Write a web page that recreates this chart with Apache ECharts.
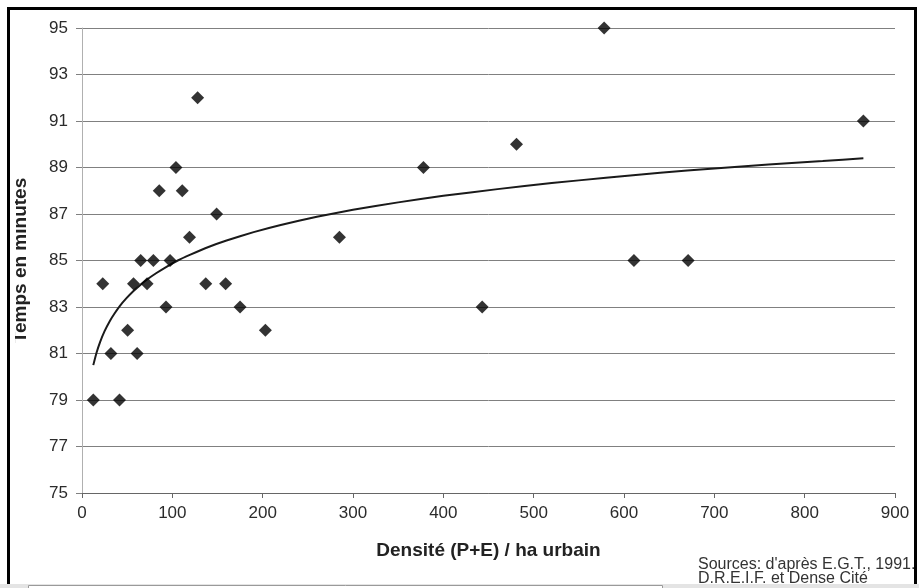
<!DOCTYPE html>
<html>
<head>
<meta charset="utf-8">
<script src="https://cdn.jsdelivr.net/npm/echarts@6/dist/echarts.min.js"></script>
<style>
html,body{margin:0;padding:0;background:#fff;}
#chart{width:919px;height:588px;}
</style>
</head>
<body>
<div id="chart"></div>
<script>
// Scatter data: density (P+E)/ha urbain vs travel time in minutes
const density = [12.5, 23, 32, 41.5, 50.5, 57, 61, 65, 72, 79, 85.5, 93, 97.5, 104, 111, 119, 128, 137, 149, 159, 175, 203, 285, 378, 443, 481, 578, 611, 671, 865];
const minutes = [79, 84, 81, 79, 82, 84, 81, 85, 84, 85, 88, 83, 85, 89, 88, 86, 92, 84, 87, 84, 83, 82, 86, 89, 83, 90, 95, 85, 85, 91];

// Trend curve
const trendX = [12.5, 16, 20, 25, 31, 36, 42, 49, 57, 64, 72, 82, 94, 106, 120, 140, 160, 190, 220, 260, 300, 350, 400, 460, 520, 580, 640, 700, 760, 820, 865];
const trendY = [80.5, 81.02, 81.49, 81.96, 82.41, 82.72, 83.05, 83.37, 83.69, 83.93, 84.18, 84.45, 84.74, 85.0, 85.25, 85.58, 85.86, 86.22, 86.53, 86.88, 87.18, 87.5, 87.78, 88.07, 88.33, 88.56, 88.77, 88.96, 89.13, 89.28, 89.4];

// Tick labels
const yTicks = [75, 77, 79, 81, 83, 85, 87, 89, 91, 93, 95];
const xTicks = [0, 100, 200, 300, 400, 500, 600, 700, 800, 900];

const xTitle = 'Densité (P+E) / ha urbain';
const yTitle = 'Temps en minutes';
const sourceLines = ["Sources: d'après E.G.T., 1991.", 'D.R.E.I.F. et Dense Cité'];

const chart = echarts.init(document.getElementById('chart'), null, {renderer: 'canvas'});

const points = density.map((d, i) => [d, minutes[i]]);
const trend = trendX.map((d, i) => [d, trendY[i]]);

const option = {
  animation: false,
  backgroundColor: '#ffffff',
  grid: {left: 82, right: 24, top: 28, bottom: 95, containLabel: false},
  xAxis: {
    type: 'value',
    min: xTicks[0],
    max: xTicks[xTicks.length - 1],
    interval: 100,
    name: xTitle,
    nameLocation: 'middle',
    nameGap: 48,
    nameTextStyle: {fontFamily: 'Liberation Sans', fontWeight: 'bold', fontSize: 19, color: '#222'},
    axisLine: {show: true, lineStyle: {color: '#666', width: 1}},
    axisTick: {show: true, inside: false, length: 5, lineStyle: {color: '#666'}},
    axisLabel: {fontFamily: 'Liberation Sans', fontSize: 17, color: '#2b2b2b', margin: 12},
    splitLine: {show: false}
  },
  yAxis: {
    type: 'value',
    min: yTicks[0],
    max: yTicks[yTicks.length - 1],
    name: yTitle,
    nameLocation: 'middle',
    nameGap: 52,
    nameRotate: 90,
    nameTextStyle: {fontFamily: 'Liberation Sans', fontWeight: 'bold', fontSize: 19, color: '#222'},
    axisLine: {show: true, lineStyle: {color: '#b0b0b0', width: 1}},
    axisTick: {show: true, length: 6, customValues: yTicks, lineStyle: {color: '#808080'}},
    axisLabel: {fontFamily: 'Liberation Sans', fontSize: 17, color: '#2b2b2b', margin: 14, customValues: yTicks},
    splitLine: {show: true, lineStyle: {color: '#808080', width: 1}}
  },
  series: [
    {
      type: 'line',
      data: trend,
      smooth: 0.15,
      showSymbol: false,
      symbol: 'none',
      lineStyle: {color: '#1a1a1a', width: 2},
      z: 2,
      silent: true
    },
    {
      type: 'scatter',
      data: points,
      symbol: 'diamond',
      symbolSize: 13,
      itemStyle: {color: '#000'},
      z: 3
    }
  ],
  graphic: [
    // clip the top of the rotated y title as in the scan
    {type: 'rect', shape: {x: 10, y: 150, width: 5, height: 230}, style: {fill: '#fff'}, z: 100},
    // sources
    {type: 'text', left: 698, top: 557, style: {text: sourceLines.join('\n'), font: '16px "Liberation Sans"', fill: '#333', lineHeight: 14}, z: 100},
    // bottom grey bar
    {type: 'rect', shape: {x: 0, y: 584, width: 919, height: 4}, style: {fill: '#e4e4e4'}, z: 99},
    {type: 'rect', shape: {x: 28.5, y: 585.5, width: 634, height: 10}, style: {fill: '#fff', stroke: '#9a9a9a', lineWidth: 1}, z: 100},
    // black frame
    {type: 'line', shape: {x1: 8.5, y1: 7, x2: 8.5, y2: 584}, style: {stroke: '#000', lineWidth: 3}, z: 101},
    {type: 'line', shape: {x1: 7, y1: 8.5, x2: 917, y2: 8.5}, style: {stroke: '#000', lineWidth: 3}, z: 101},
    {type: 'line', shape: {x1: 915.5, y1: 7, x2: 915.5, y2: 584}, style: {stroke: '#000', lineWidth: 3}, z: 101}
  ]
};

chart.setOption(option);
</script>
</body>
</html>
